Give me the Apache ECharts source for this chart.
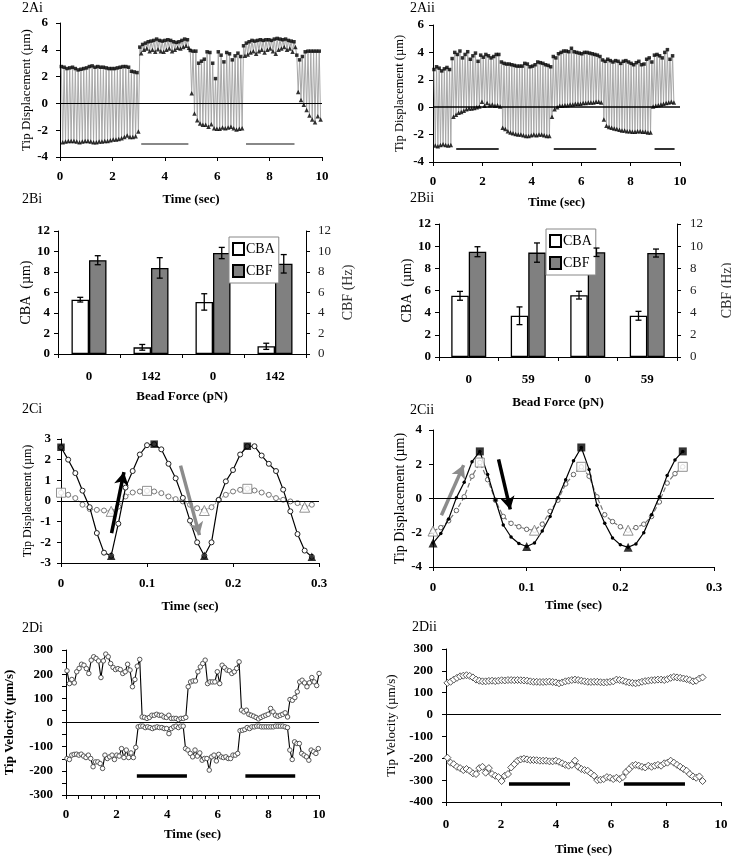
<!DOCTYPE html>
<html><head><meta charset="utf-8">
<script src="https://cdn.jsdelivr.net/npm/echarts@6/dist/echarts.min.js"></script>
<style>html,body{margin:0;padding:0;background:#fff}#c{width:731px;height:857px}</style>
</head><body><div id="c"></div>
<script>
// ---------- Panel 2Ai : tip displacement (peaks / troughs per beat) ----------
const A1_t0 = 0.05, A1_dt = 0.107;
const A1_peaks = [
  2.75,2.7,2.6,2.65,2.7,2.6,2.5,2.55,2.6,2.65,2.75,2.8,2.7,2.75,2.7,2.7,2.65,2.6,2.6,2.6,2.65,2.7,2.75,2.75,2.7,2.4,2.35,2.3,
  4.2,4.4,4.5,4.6,4.65,4.7,4.8,4.7,4.65,4.7,4.75,4.7,4.6,4.55,4.6,4.7,4.8,4.75,
  3.95,3.9,3.9,3.0,3.15,3.3,3.85,3.8,3.0,1.85,3.85,3.6,3.1,3.8,3.7,3.25,3.55,3.75,3.5,
  4.3,4.5,4.6,4.7,4.65,4.7,4.75,4.7,4.75,4.75,4.7,4.8,4.85,4.8,4.75,4.8,4.7,4.65,4.6,
  3.6,3.25,3.5,3.85,3.9,3.9,3.9,3.9,3.9];
const A1_troughs = [
  -2.9,-2.85,-2.8,-2.8,-2.8,-2.85,-2.9,-2.85,-2.8,-2.8,-2.85,-2.9,-2.9,-2.85,-2.85,-2.8,-2.8,-2.75,-2.7,-2.7,-2.65,-2.6,-2.5,-2.4,-2.5,-2.5,-2.45,-2.1,
  3.75,4.0,4.1,3.9,4.0,3.85,4.05,3.9,3.85,4.0,4.1,3.9,4.0,4.15,4.1,4.2,4.3,4.15,
  0.75,-0.75,-1.25,-1.5,-1.6,-1.6,-1.75,-1.55,-1.85,-1.9,-1.9,-1.8,-1.85,-1.8,-1.75,-1.85,-1.95,-1.9,-1.85,
  3.55,3.65,3.8,3.9,3.7,3.9,4.0,3.8,4.0,4.1,3.9,3.7,4.0,4.1,4.2,4.0,4.1,3.85,4.2,
  0.85,0.25,-0.1,-0.5,-0.9,-1.2,-1.4,-0.95,-1.2];
const A1_stim = [[3.1, 4.9], [7.1, 8.95]];
const A1_stimY = -3;

// ---------- Panel 2Aii ----------
const A2_t0 = 0.04, A2_dt = 0.105;
const A2_peaks = [
  2.75,2.95,2.85,2.65,2.8,2.9,2.75,
  3.55,4.0,3.85,4.1,3.6,3.85,4.05,3.5,3.75,3.95,3.35,3.8,3.65,3.85,3.75,3.6,3.7,3.85,3.85,
  3.3,3.2,3.15,3.15,3.1,3.05,3.0,3.0,3.0,3.2,3.15,2.95,3.0,3.1,3.3,3.25,3.2,3.1,3.05,2.95,
  3.7,3.6,3.9,4.0,4.1,4.1,4.05,4.3,4.05,4.0,3.95,3.9,4.0,4.0,3.95,3.9,3.85,3.8,3.7,
  3.45,3.35,3.5,3.4,3.3,3.4,3.35,3.2,3.35,3.4,3.3,3.2,3.1,3.25,3.35,3.1,3.15,3.5,3.6,
  3.3,3.8,3.85,3.75,3.6,4.0,4.2,3.5,3.75];
const A2_troughs = [
  -2.8,-2.85,-2.75,-2.7,-2.75,-2.8,-2.75,
  -0.7,-0.55,-0.4,-0.35,-0.25,-0.15,-0.1,-0.1,-0.05,0.0,0.05,0.4,0.1,0.3,0.15,0.2,0.1,0.15,0.05,
  -1.5,-1.6,-1.75,-1.85,-1.9,-1.95,-2.0,-2.0,-2.05,-2.1,-2.1,-2.05,-2.0,-2.05,-2.0,-2.0,-2.05,-2.1,-2.1,-0.7,
  -0.15,0.0,0.1,0.1,0.15,0.15,0.2,0.2,0.25,0.25,0.25,0.3,0.3,0.35,0.35,0.35,0.4,0.4,0.35,
  -0.9,-1.35,-1.45,-1.5,-1.55,-1.6,-1.65,-1.7,-1.7,-1.75,-1.75,-1.8,-1.8,-1.75,-1.75,-1.8,-1.8,-1.85,-1.85,
  0.05,0.1,0.15,0.2,0.25,0.3,0.35,0.4,0.35];
const A2_stim = [[0.94, 2.66], [4.89, 6.61], [8.97, 9.78]];
const A2_stimY = -3;

// ---------- Panels 2Bi / 2Bii : bars ----------
const B1_cats = ['0', '142', '0', '142'];
const B1_cba = [5.3, 0.65, 5.08, 0.75];
const B1_cbaErr = [0.23, 0.28, 0.8, 0.3];
const B1_cbf = [9.15, 8.4, 9.85, 8.8];
const B1_cbfErr = [0.44, 1.0, 0.55, 0.9];
const B2_cats = ['0', '59', '0', '59'];
const B2_cba = [5.52, 3.72, 5.58, 3.72];
const B2_cbaErr = [0.4, 0.8, 0.35, 0.4];
const B2_cbf = [9.5, 9.42, 9.45, 9.38];
const B2_cbfErr = [0.45, 0.87, 0.38, 0.36];

// ---------- Panel 2Ci : one beat cycle, 120 frames/s ----------
const C_dt = 1 / 120;
const C1_black = [2.6,2.0,1.35,0.5,-0.3,-1.55,-2.5,-2.65,-1.1,0.65,1.45,2.25,2.7,2.75,2.5,1.8,1.1,0.15,-0.95,-2.0,-2.65,-2.0,0.05,0.95,1.5,2.25,2.65,2.65,2.2,1.8,1.45,0.55,-0.5,-1.6,-2.4,-2.7];
const C1_grey = [0.4,0.3,0.14,-0.18,-0.39,-0.43,-0.46,-0.5,-0.27,0.22,0.41,0.46,0.49,0.46,0.38,0.22,0.09,-0.02,-0.18,-0.35,-0.46,-0.3,0.06,0.3,0.46,0.54,0.59,0.51,0.41,0.3,0.14,0.06,-0.02,-0.1,-0.3,-0.18];
const C1_blackPeakIdx = [0, 13, 26], C1_blackTroughIdx = [7, 20, 35];
const C1_greyPeakIdx = [0, 12, 26], C1_greyTroughIdx = [7, 20, 34];
const C1_arrowBlack = [[0.0588, -1.55], [0.0732, 1.4]];
const C1_arrowGrey = [[0.139, 1.71], [0.161, -1.65]];

// ---------- Panel 2Cii ----------
const C2_black = [-2.6,-2.05,-1.2,0.05,0.95,2.15,2.75,1.4,-0.1,-1.55,-2.25,-2.63,-2.8,-2.6,-1.9,-1.05,0.05,1.1,2.2,2.98,1.7,-0.4,-1.45,-2.3,-2.7,-2.85,-2.65,-2.0,-0.95,0.1,1.35,2.25,2.75];
const C2_grey = [-1.9,-1.7,-1.3,-0.7,0.1,1.3,2.1,1.1,-0.1,-1.05,-1.45,-1.65,-1.8,-1.85,-1.5,-0.75,-0.1,0.85,1.4,1.85,1.3,0.1,-0.95,-1.35,-1.65,-1.85,-1.7,-1.5,-1.05,-0.2,0.9,1.45,1.85];
const C2_blackPeakIdx = [6, 19, 32], C2_blackTroughIdx = [0, 12, 25];
const C2_greyPeakIdx = [6, 19, 32], C2_greyTroughIdx = [0, 13, 25];
const C2_arrowGrey = [[0.009, -0.98], [0.0327, 1.95]];
const C2_arrowBlack = [[0.07, 2.28], [0.0825, -0.64]];

// ---------- Panel 2Di : tip velocity ----------
const D1_t0 = 0.04, D1_dtUp = 0.0958, D1_dtLow = 0.0937;
const D1_up = [214,161,178,164,210,224,241,237,223,203,258,272,265,255,186,255,283,272,244,228,219,223,219,203,210,241,217,148,178,233,261,
  23,21,17,21,30,30,34,30,30,23,21,30,17,17,17,12,17,17,21,
  148,168,172,172,210,230,244,258,161,168,168,168,210,161,237,227,217,214,203,210,224,251,
  51,44,51,34,30,26,21,15,21,26,30,34,58,44,30,26,30,34,40,23,
  95,92,103,127,168,175,164,148,164,186,168,153,203];
const D1_low = [-149,-153,-135,-132,-131,-135,-131,-139,-145,-135,-149,-183,-163,-163,-170,-190,-135,-149,-142,-135,-153,-135,-139,-108,-145,-114,-145,-126,-145,-103,
  -18,-15,-15,-21,-18,-21,-25,-21,-18,-21,-21,-25,-25,-46,-25,-18,-15,-21,-15,-15,
  -108,-114,-128,-142,-114,-139,-126,-156,-149,-149,-197,-142,-135,-159,-132,-142,-145,-142,-149,-149,-135,-135,-128,
  -34,-32,-29,-21,-25,-18,-18,-15,-15,-18,-18,-18,-18,-18,-18,-15,-15,-15,-15,-18,-21,
  -114,-153,-80,-87,-87,-128,-135,-142,-156,-114,-121,-128,-108];
const D1_stim = [[2.8, 4.78], [7.09, 9.06]];
const D1_stimY = -222;

// ---------- Panel 2Dii ----------
const D2_t0 = 0.05, D2_dt = 0.116;
const D2_up = [145,150,160,168,175,178,180,177,170,160,155,152,152,154,155,153,155,157,156,158,
  158,157,158,157,156,155,152,150,150,149,149,150,151,149,147,143,147,152,155,158,
  160,158,155,152,150,149,150,150,148,147,148,150,152,160,158,155,150,147,145,143,
  146,150,153,155,157,158,160,160,158,162,168,172,170,168,165,162,158,152,155,165,170];
const D2_low = [-197,-220,-227,-239,-245,-254,-249,-257,-269,-272,-245,-239,-266,-245,-272,-280,-286,-304,-280,-272,
  -242,-227,-211,-205,-202,-205,-208,-208,-209,-211,-211,-211,-214,-214,-211,-216,-223,-230,-234,-230,
  -211,-239,-249,-254,-257,-269,-280,-300,-298,-295,-286,-289,-295,-289,-295,-286,-263,-249,-234,-230,
  -234,-239,-242,-234,-239,-234,-230,-234,-223,-220,-211,-220,-230,-239,-249,-257,-272,-283,-289,-283,-304];
const D2_stim = [[2.29, 4.51], [6.47, 8.69]];
const D2_stimY = -318;

// ================= build =================
const FONT = '"Liberation Serif","Times New Roman",serif';
const chart = echarts.init(document.getElementById('c'), null, {renderer: 'canvas'});

const grids = [
  {left: 60, top: 23, width: 262, height: 134},
  {left: 433, top: 25, width: 247, height: 137},
  {left: 58, top: 231, width: 248, height: 123},
  {left: 439, top: 224, width: 238, height: 133},
  {left: 61, top: 439, width: 258, height: 124},
  {left: 433, top: 430, width: 281, height: 137},
  {left: 66, top: 650, width: 253, height: 145},
  {left: 446, top: 649, width: 275, height: 153}
].map(g => Object.assign({containLabel: false, outerBoundsMode: 'none'}, g));

const axLine = {show: true, onZero: false, lineStyle: {color: '#000', width: 1}};
const axTick = {show: true, length: 4, inside: false, lineStyle: {color: '#000', width: 1}};
function lab(margin, size, bold) {
  return {show: true, margin: margin, fontFamily: FONT, fontSize: size || 13, fontWeight: bold === false ? 'normal' : 'bold', color: '#000'};
}
function nameStyle(size, bold, color) {
  return {fontFamily: FONT, fontSize: size, fontWeight: bold ? 'bold' : 'normal', color: color || '#000'};
}
function valX(gi, min, max, itv, name, gap, margin, extra) {
  return Object.assign({type: 'value', gridIndex: gi, min: min, max: max, interval: itv,
    axisLine: axLine, axisTick: axTick, splitLine: {show: false}, axisLabel: lab(margin),
    name: name, nameLocation: 'middle', nameGap: gap, nameTextStyle: nameStyle(13, true)}, extra || {});
}
function valY(gi, min, max, itv, name, gap, margin, nsz, nbold, extra) {
  return Object.assign({type: 'value', gridIndex: gi, min: min, max: max, interval: itv,
    axisLine: axLine, axisTick: axTick, splitLine: {show: false}, axisLabel: lab(margin),
    name: name, nameLocation: 'middle', nameRotate: 90, nameGap: gap, nameTextStyle: nameStyle(nsz, nbold)}, extra || {});
}

const xAxis = [
  valX(0, 0, 10, 2, 'Time (sec)', 36, 13),
  valX(1, 0, 10, 2, 'Time (sec)', 34, 13),
  {type: 'category', gridIndex: 2, data: B1_cats, axisLine: axLine, axisTick: Object.assign({alignWithLabel: false}, axTick),
    axisLabel: lab(16), name: 'Bead Force (pN)', nameLocation: 'middle', nameGap: 36, nameTextStyle: nameStyle(13, true)},
  {type: 'category', gridIndex: 3, data: B2_cats, axisLine: axLine, axisTick: Object.assign({alignWithLabel: false}, axTick),
    axisLabel: lab(16), name: 'Bead Force (pN)', nameLocation: 'middle', nameGap: 39, nameTextStyle: nameStyle(13, true)},
  valX(4, 0, 0.3, 0.1, 'Time (sec)', 37, 14),
  valX(5, 0, 0.3, 0.1, 'Time (sec)', 32, 14),
  valX(6, 0, 10, 2, 'Time (sec)', 33, 13, {minorTick: {show: true, splitNumber: 4, length: 4, lineStyle: {color: '#000'}}}),
  valX(7, 0, 10, 2, 'Time (sec)', 41, 16)
];
const rightLab = Object.assign(lab(12, 13, false), {color: '#222'});
const yAxis = [
  valY(0, -4, 6, 2, 'Tip Displacement (\u00b5m)', 26, 12, 13, false),
  valY(1, -4, 6, 2, 'Tip Displacement (\u00b5m)', 27, 9, 12.5, false),
  valY(2, 0, 12, 2, 'CBA  (\u00b5m)', 24, 8, 14, false),
  Object.assign(valY(2, 0, 12, 2, 'CBF (Hz)', 35, 12, 14, false), {position: 'right', axisLabel: rightLab, nameTextStyle: nameStyle(14, false, '#333')}),
  valY(3, 0, 12, 2, 'CBA  (\u00b5m)', 22, 8, 14, false),
  Object.assign(valY(3, 0, 12, 2, 'CBF (Hz)', 43, 13, 14, false), {position: 'right', axisLabel: Object.assign(lab(13, 13, false), {color: '#222'}), nameTextStyle: nameStyle(14, false, '#333')}),
  valY(4, -3, 3, 1, 'Tip Displacement (\u00b5m)', 27, 10, 12, false),
  valY(5, -4, 4, 2, 'Tip Displacement (\u00b5m)', 22, 11, 14, false),
  valY(6, -300, 300, 100, 'Tip Velocity (\u00b5m/s)', 50, 13, 13, true, {minorTick: {show: true, splitNumber: 2, length: 4, lineStyle: {color: '#000'}}}),
  valY(7, -400, 300, 100, 'Tip Velocity (\u00b5m/s)', 48, 13, 13, false)
];

function mlBase(data) {
  return {silent: true, symbol: 'none', animation: false, label: {show: false},
    lineStyle: {type: 'solid', color: '#000', width: 1}, emphasis: {disabled: true}, data: data};
}
function stimLines(spans, y, color, width) {
  return spans.map(s => [{coord: [s[0], y], lineStyle: {color: color, width: width, type: 'solid'}}, {coord: [s[1], y]}]);
}
function zeroLine(w) { return {yAxis: 0, lineStyle: {color: '#000', width: w || 1, type: 'solid'}}; }

const series = [];

// ---- A panels
function addA(xi, yi, t0, dt, peaks, troughs, stim, stimY, stimColor, zeroW) {
  const zz = [], pk = [], tr = [];
  for (let i = 0; i < peaks.length; i++) {
    const tp = t0 + i * dt;
    zz.push([tp, peaks[i]]); pk.push([tp, peaks[i]]);
    if (i < troughs.length) { const tt = tp + dt / 2; zz.push([tt, troughs[i]]); tr.push([tt, troughs[i]]); }
  }
  series.push({type: 'line', xAxisIndex: xi, yAxisIndex: yi, data: zz, showSymbol: false, silent: true,
    lineStyle: {color: '#a8a8a8', width: 1}, z: 2});
  series.push({type: 'scatter', xAxisIndex: xi, yAxisIndex: yi, data: pk, symbol: 'rect', symbolSize: 3.5,
    itemStyle: {color: '#000'}, silent: true, z: 4,
    markLine: mlBase([zeroLine(zeroW)].concat(stimLines(stim, stimY, stimColor, 2)))});
  series.push({type: 'scatter', xAxisIndex: xi, yAxisIndex: yi, data: tr, symbol: 'triangle', symbolSize: 4.5,
    itemStyle: {color: '#000'}, silent: true, z: 4});
}
addA(0, 0, A1_t0, A1_dt, A1_peaks, A1_troughs, A1_stim, A1_stimY, '#888', 1);
addA(1, 1, A2_t0, A2_dt, A2_peaks, A2_troughs, A2_stim, A2_stimY, '#333', 1.5);

// ---- B panels
function errRender(offset) {
  return function (params, api) {
    const x = api.value(0), m = api.value(1), e = api.value(2);
    const hi = api.coord([x, m + e]), lo = api.coord([x, m - e]);
    const cx = hi[0] + offset, cap = 3;
    const st = {stroke: '#000', lineWidth: 1.3};
    return {type: 'group', children: [
      {type: 'line', shape: {x1: cx, y1: hi[1], x2: cx, y2: lo[1]}, style: st},
      {type: 'line', shape: {x1: cx - cap, y1: hi[1], x2: cx + cap, y2: hi[1]}, style: st},
      {type: 'line', shape: {x1: cx - cap, y1: lo[1], x2: cx + cap, y2: lo[1]}, style: st}
    ]};
  };
}
function addB(xi, yL, yR, cba, cbaErr, cbf, cbfErr) {
  const bw = 17.5;
  series.push({type: 'bar', name: 'CBA', xAxisIndex: xi, yAxisIndex: yL, data: cba, barWidth: bw, barGap: '0%',
    itemStyle: {color: '#fff', borderColor: '#000', borderWidth: 1.3}, silent: true, z: 2});
  series.push({type: 'bar', name: 'CBF', xAxisIndex: xi, yAxisIndex: yR, data: cbf, barWidth: bw, barGap: '0%',
    itemStyle: {color: '#808080', borderColor: '#000', borderWidth: 1.3}, silent: true, z: 2});
  series.push({type: 'custom', xAxisIndex: xi, yAxisIndex: yL, data: cba.map((m, i) => [i, m, cbaErr[i]]),
    renderItem: errRender(-bw / 2), silent: true, z: 5});
  series.push({type: 'custom', xAxisIndex: xi, yAxisIndex: yR, data: cbf.map((m, i) => [i, m, cbfErr[i]]),
    renderItem: errRender(bw / 2), silent: true, z: 5});
}
addB(2, 2, 3, B1_cba, B1_cbaErr, B1_cbf, B1_cbfErr);
addB(3, 4, 5, B2_cba, B2_cbaErr, B2_cbf, B2_cbfErr);

// ---- C panels
function pts(vals, dt) { return vals.map((v, k) => [k * dt, v]); }
function pick(vals, idx, dt) { return idx.map(k => [k * dt, vals[k]]); }
function arrowLine(a, color) {
  return [{coord: a[0], lineStyle: {color: color, width: 3.5, type: 'solid'}}, {coord: a[1]}];
}
function arrowML(list) {
  return Object.assign(mlBase(list), {symbol: ['none', 'arrow'], symbolSize: [11, 13]});
}
// 2Ci
series.push({type: 'line', xAxisIndex: 4, yAxisIndex: 6, data: pts(C1_grey, C_dt), symbol: 'circle', symbolSize: 5, showAllSymbol: true,
  lineStyle: {color: '#888', width: 1.2, type: 'dotted'}, itemStyle: {color: '#fff', borderColor: '#777', borderWidth: 1}, silent: true, z: 2,
  markLine: arrowML([arrowLine(C1_arrowBlack, '#000'), arrowLine(C1_arrowGrey, '#8c8c8c')])});
series.push({type: 'line', xAxisIndex: 4, yAxisIndex: 6, data: pts(C1_black, C_dt), symbol: 'circle', symbolSize: 5, showAllSymbol: true,
  lineStyle: {color: '#000', width: 1.2}, itemStyle: {color: '#fff', borderColor: '#222', borderWidth: 1}, silent: true, z: 3,
  markLine: mlBase([zeroLine(1)])});
series.push({type: 'scatter', xAxisIndex: 4, yAxisIndex: 6, data: pick(C1_grey, C1_greyPeakIdx, C_dt), symbol: 'rect', symbolSize: 9,
  itemStyle: {color: '#fff', borderColor: '#777', borderWidth: 1}, silent: true, z: 4});
series.push({type: 'scatter', xAxisIndex: 4, yAxisIndex: 6, data: pick(C1_grey, C1_greyTroughIdx, C_dt), symbol: 'triangle', symbolSize: 10,
  itemStyle: {color: '#fff', borderColor: '#777', borderWidth: 1}, silent: true, z: 4});
series.push({type: 'scatter', xAxisIndex: 4, yAxisIndex: 6, data: pick(C1_black, C1_blackPeakIdx, C_dt), symbol: 'rect', symbolSize: 7.5,
  itemStyle: {color: '#000'}, silent: true, z: 5});
series.push({type: 'scatter', xAxisIndex: 4, yAxisIndex: 6, data: pick(C1_black, C1_blackTroughIdx, C_dt), symbol: 'triangle', symbolSize: 8.5,
  itemStyle: {color: '#000'}, silent: true, z: 5});
// 2Cii
series.push({type: 'line', xAxisIndex: 5, yAxisIndex: 7, data: pts(C2_grey, C_dt), symbol: 'circle', symbolSize: 4.5, showAllSymbol: true,
  lineStyle: {color: '#777', width: 1.2, type: 'dashed'}, itemStyle: {color: '#fff', borderColor: '#666', borderWidth: 1}, silent: true, z: 2,
  markLine: arrowML([arrowLine(C2_arrowGrey, '#8c8c8c'), arrowLine(C2_arrowBlack, '#000')])});
series.push({type: 'line', xAxisIndex: 5, yAxisIndex: 7, data: pts(C2_black, C_dt), symbol: 'circle', symbolSize: 3.5, showAllSymbol: true,
  lineStyle: {color: '#000', width: 1.2}, itemStyle: {color: '#000'}, silent: true, z: 3,
  markLine: mlBase([zeroLine(1)])});
series.push({type: 'scatter', xAxisIndex: 5, yAxisIndex: 7, data: pick(C2_grey, C2_greyPeakIdx, C_dt), symbol: 'rect', symbolSize: 9,
  itemStyle: {color: '#fff', borderColor: '#777', borderWidth: 1}, silent: true, z: 4});
series.push({type: 'scatter', xAxisIndex: 5, yAxisIndex: 7, data: pick(C2_grey, C2_greyTroughIdx, C_dt), symbol: 'triangle', symbolSize: 10,
  itemStyle: {color: '#fff', borderColor: '#777', borderWidth: 1}, silent: true, z: 4});
series.push({type: 'scatter', xAxisIndex: 5, yAxisIndex: 7, data: pick(C2_black, C2_blackPeakIdx, C_dt), symbol: 'rect', symbolSize: 8,
  itemStyle: {color: '#000'}, silent: true, z: 5});
series.push({type: 'scatter', xAxisIndex: 5, yAxisIndex: 7, data: pick(C2_black, C2_blackTroughIdx, C_dt), symbol: 'triangle', symbolSize: 9,
  itemStyle: {color: '#000'}, silent: true, z: 5});

// ---- D panels
function tser(t0, dt, vals) { return vals.map((v, i) => [t0 + i * dt, v]); }
series.push({type: 'line', xAxisIndex: 6, yAxisIndex: 8, data: tser(D1_t0, D1_dtUp, D1_up), symbol: 'circle', symbolSize: 4.5, showAllSymbol: true,
  lineStyle: {color: '#000', width: 1.1}, itemStyle: {color: '#fff', borderColor: '#555', borderWidth: 1}, silent: true, z: 3,
  markLine: mlBase([zeroLine(1)].concat(stimLines(D1_stim, D1_stimY, '#000', 3.5)))});
series.push({type: 'line', xAxisIndex: 6, yAxisIndex: 8, data: tser(D1_t0, D1_dtLow, D1_low), symbol: 'circle', symbolSize: 4.5, showAllSymbol: true,
  lineStyle: {color: '#000', width: 1.1}, itemStyle: {color: '#fff', borderColor: '#555', borderWidth: 1}, silent: true, z: 3});
series.push({type: 'line', xAxisIndex: 7, yAxisIndex: 9, data: tser(D2_t0, D2_dt, D2_up), symbol: 'diamond', symbolSize: 7, showAllSymbol: true,
  lineStyle: {color: '#000', width: 0.8}, itemStyle: {color: '#fff', borderColor: '#444', borderWidth: 0.9}, silent: true, z: 3,
  markLine: mlBase([zeroLine(1)].concat(stimLines(D2_stim, D2_stimY, '#000', 3.5)))});
series.push({type: 'line', xAxisIndex: 7, yAxisIndex: 9, data: tser(D2_t0, D2_dt, D2_low), symbol: 'diamond', symbolSize: 7, showAllSymbol: true,
  lineStyle: {color: '#000', width: 0.8}, itemStyle: {color: '#fff', borderColor: '#444', borderWidth: 0.9}, silent: true, z: 3});

const legendCommon = {orient: 'vertical', icon: 'rect', selectedMode: false, data: ['CBA', 'CBF'],
  padding: [5, 4, 5, 3], itemGap: 8, itemWidth: 11, itemHeight: 12, borderColor: '#888', borderWidth: 1,
  backgroundColor: '#fff', textStyle: {fontFamily: FONT, fontSize: 14, color: '#000', padding: [0, 0, 0, -3]}};

const panelLabels = [['2Ai', 22, 1], ['2Aii', 410, 1], ['2Bi', 22, 192], ['2Bii', 410, 191],
  ['2Ci', 22, 402], ['2Cii', 410, 403], ['2Di', 22, 621], ['2Dii', 412, 620]];

chart.setOption({
  animation: false,
  backgroundColor: '#fff',
  grid: grids,
  xAxis: xAxis,
  yAxis: yAxis,
  legend: [Object.assign({left: 229, top: 237}, legendCommon), Object.assign({left: 546, top: 229}, legendCommon)],
  series: series,
  graphic: panelLabels.map(p => ({type: 'text', left: p[1], top: p[2], silent: true,
    style: {text: p[0], fontFamily: FONT, fontSize: 14, fill: '#000'}}))
});
</script></body></html>
